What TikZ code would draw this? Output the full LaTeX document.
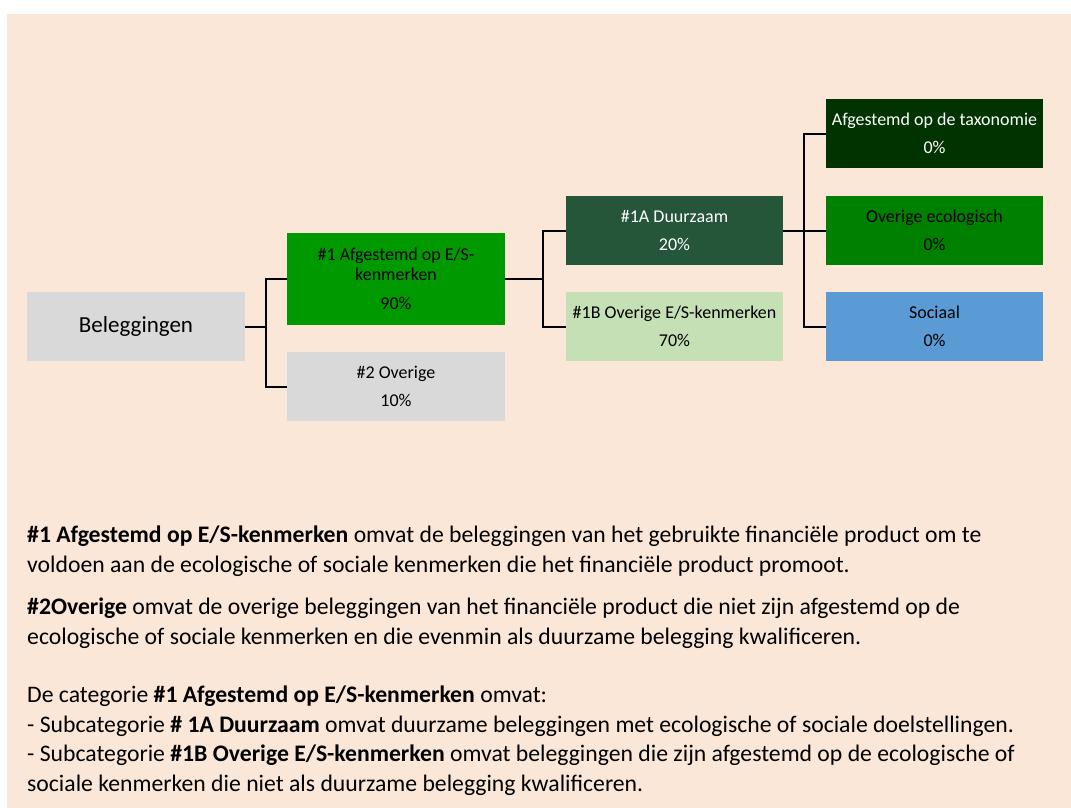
\documentclass[tikz,border=0pt]{standalone}
\usepackage{fontspec}
\setmainfont{Carlito}
\usepackage{tikz}
\usetikzlibrary{positioning}

\definecolor{peach}{RGB}{250,231,215}
\definecolor{boxgrey}{RGB}{217,217,217}
\definecolor{esgreen}{RGB}{0,153,0}
\definecolor{duurgreen}{RGB}{38,86,58}
\definecolor{lightgreen}{RGB}{197,224,180}
\definecolor{taxgreen}{RGB}{0,51,0}
\definecolor{ecogreen}{RGB}{0,128,0}
\definecolor{socblue}{RGB}{91,155,213}

\begin{document}
\begin{tikzpicture}[x=1pt,y=-1pt,
  catbox/.style={minimum width=217pt,minimum height=69pt,inner sep=0pt,align=center,
    font=\fontsize{18}{20}\selectfont},
  link/.style={line width=2pt},
  uitleg/.style={anchor=base west,align=left,inner sep=0pt,font=\fontsize{23.7}{29.5}\selectfont}]
\useasboundingbox (0,0) rectangle (1071,808);
\fill[color=peach] (7,14) rectangle (1071,808);

% vakjes
\node[catbox,fill=boxgrey,minimum width=218pt,font=\fontsize{23}{25}\selectfont] (bel) at (136,326.5) {Beleggingen};
\node[catbox,fill=esgreen,minimum width=218pt,minimum height=92pt] (es) at (396,279)
{\#1 Afgestemd op E/S-\\kenmerken\\[9pt]90\%};
\node[catbox,fill=boxgrey,minimum width=218pt] (ov) at (396,386.5) {\#2 Overige\\[8pt]10\%};
\node[catbox,fill=duurgreen,text=white] (duur) at (674.5,230.5) {\#1A Duurzaam\\[8pt]20\%};
\node[catbox,fill=lightgreen] (ovES) at (674.5,326.5) {\#1B Overige E/S-kenmerken\\[8pt]70\%};
\node[catbox,fill=taxgreen,text=white] (tax) at (934.5,133.5) {Afgestemd op de taxonomie\\[8pt]0\%};
\node[catbox,fill=ecogreen] (eco) at (934.5,230.5) {Overige ecologisch\\[8pt]0\%};
\node[catbox,fill=socblue] (soc) at (934.5,326.5) {Sociaal\\[8pt]0\%};

% lijnen
\draw[link] (bel.east) -- ++(21,0);
\draw[link] (es.west) -- ++(-21,0) |- (ov.west);
\draw[link] (es.east) -- ++(38,0);
\draw[link] (duur.west) -- ++(-23,0) |- (ovES.west);
\draw[link] (duur.east) -- (eco.west);
\draw[link] (tax.west) -- ++(-22,0) |- (soc.west);

% tekst (base = laatste regel)
\node[uitleg] (par1) at (27,572)
{\textbf{\#1 Afgestemd op E/S-kenmerken} omvat de beleggingen van het gebruikte financiële product om te\\
voldoen aan de ecologische of sociale kenmerken die het financiële product promoot.};
\node[uitleg] (par2) at (27,644)
{\textbf{\#2Overige} omvat de overige beleggingen van het financiële product die niet zijn afgestemd op de\\
ecologische of sociale kenmerken en die evenmin als duurzame belegging kwalificeren.};
\node[uitleg] (par3) at (27,791)
{De categorie \textbf{\#1 Afgestemd op E/S-kenmerken} omvat:\\
- Subcategorie \textbf{\# 1A Duurzaam} omvat duurzame beleggingen met ecologische of sociale doelstellingen.\\
- Subcategorie \textbf{\#1B Overige E/S-kenmerken} omvat beleggingen die zijn afgestemd op de ecologische of\\
sociale kenmerken die niet als duurzame belegging kwalificeren.};
\end{tikzpicture}
\end{document}
